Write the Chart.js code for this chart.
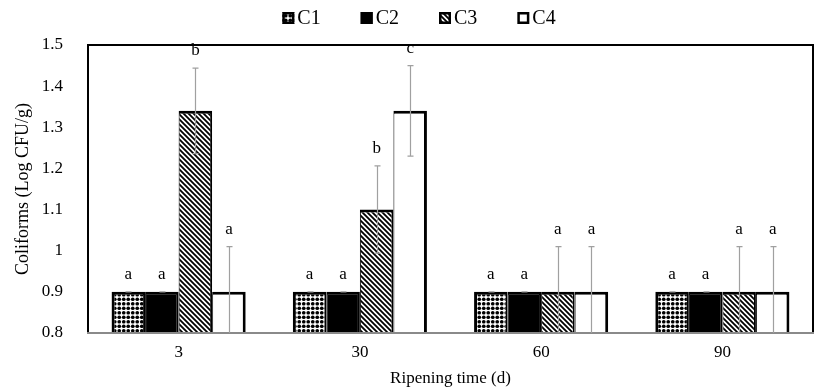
<!DOCTYPE html>
<html>
<head>
<meta charset="utf-8">
<script src="https://cdn.jsdelivr.net/npm/chart.js@4/dist/chart.umd.min.js"></script>
<style>
  html, body { margin: 0; padding: 0; background: #ffffff; }
  #wrap { width: 827px; height: 391px; }
</style>
</head>
<body>
<div id="wrap"><canvas id="c" width="827" height="391"></canvas></div>
<script>
// ---- Data ----
const categories = ['3', '30', '60', '90'];
const seriesNames = ['C1', 'C2', 'C3', 'C4'];
const c1Values = [0.90, 0.90, 0.90, 0.90];
const c2Values = [0.90, 0.90, 0.90, 0.90];
const c3Values = [1.34, 1.10, 0.90, 0.90];
const c4Values = [0.90, 1.34, 0.90, 0.90];
const c1Errors = [0, 0, 0, 0];
const c2Errors = [0, 0, 0, 0];
const c3Errors = [0.104, 0.106, 0.11, 0.11];
const c4Errors = [0.11, 0.11, 0.11, 0.11];
const c1Letters = ['a', 'a', 'a', 'a'];
const c2Letters = ['a', 'a', 'a', 'a'];
const c3Letters = ['b', 'b', 'a', 'a'];
const c4Letters = ['a', 'c', 'a', 'a'];
const yTickLabels = ['0.8', '0.9', '1', '1.1', '1.2', '1.3', '1.4', '1.5'];
const yTitle = 'Coliforms (Log CFU/g)';
const xTitle = 'Ripening time (d)';

const FONT = "'Liberation Serif', 'Times New Roman', serif";

// ---- Fill patterns ----
function dotPattern() {
  const s = 9;
  const t = document.createElement('canvas');
  t.width = s; t.height = s;
  const g = t.getContext('2d');
  g.fillStyle = '#ffffff'; g.fillRect(0, 0, s, s);
  g.fillStyle = '#000000';
  [[2.25, 2.25], [6.75, 2.25], [2.25, 6.75], [6.75, 6.75]].forEach(([x, y]) => {
    g.beginPath(); g.arc(x, y, 1.85, 0, Math.PI * 2); g.fill();
  });
  return g.createPattern(t, 'repeat');
}
function hatchPattern() {
  const s = 5;
  const t = document.createElement('canvas');
  t.width = s; t.height = s;
  const g = t.getContext('2d');
  g.fillStyle = '#ffffff'; g.fillRect(0, 0, s, s);
  g.strokeStyle = '#000000'; g.lineWidth = 1.8;
  g.beginPath();
  g.moveTo(-1, -1); g.lineTo(s + 1, s + 1);
  g.moveTo(-1, s - 1); g.lineTo(1, s + 1);
  g.moveTo(s - 1, -1); g.lineTo(s + 1, 1);
  g.stroke();
  return g.createPattern(t, 'repeat');
}

const fills = [dotPattern(), '#000000', hatchPattern(), '#ffffff'];
const valueSets = [c1Values, c2Values, c3Values, c4Values];
const errorSets = [c1Errors, c2Errors, c3Errors, c4Errors];
const letterSets = [c1Letters, c2Letters, c3Letters, c4Letters];
const borderSides = [
  { top: 3, left: 3, right: 2, bottom: 0 },
  { top: 3, left: 1, right: 2, bottom: 0 },
  { top: 3, left: 1, right: 2, bottom: 0 },
  { top: 3, left: 1, right: 3, bottom: 0 }
];

const datasets = seriesNames.map((name, i) => ({
  label: name,
  data: valueSets[i],
  errors: errorSets[i],
  letters: letterSets[i],
  backgroundColor: fills[i],
  borderColor: '#000000',
  borderWidth: borderSides[i],
  borderSkipped: 'start',
  barPercentage: 1.0,
  categoryPercentage: 0.74
}));

// ---- Plugins ----
const framePlugin = {
  id: 'frame',
  afterDatasetsDraw(chart) {
    const { ctx, chartArea: a } = chart;
    ctx.save();
    ctx.lineCap = 'square';
    ctx.strokeStyle = '#000000';
    ctx.lineWidth = 2;
    ctx.beginPath();
    ctx.moveTo(a.left, a.bottom);
    ctx.lineTo(a.left, a.top);
    ctx.lineTo(a.right, a.top);
    ctx.lineTo(a.right, a.bottom);
    ctx.stroke();
    ctx.strokeStyle = '#8a8a8a';
    ctx.lineWidth = 2;
    ctx.beginPath();
    ctx.moveTo(a.left, a.bottom);
    ctx.lineTo(a.right, a.bottom);
    ctx.stroke();
    ctx.restore();
  }
};

const errorPlugin = {
  id: 'errors',
  afterDatasetsDraw(chart) {
    const { ctx, chartArea: a } = chart;
    const ys = chart.scales.y;
    ctx.save();
    ctx.strokeStyle = '#a0a0a0';
    ctx.lineWidth = 1.2;
    chart.data.datasets.forEach((ds, di) => {
      const meta = chart.getDatasetMeta(di);
      meta.data.forEach((bar, i) => {
        const v = ds.data[i], e = ds.errors[i];
        const yt = ys.getPixelForValue(v + e);
        const yb = Math.min(ys.getPixelForValue(v - e), a.bottom);
        const x = Math.round(bar.x) + 0.5;
        ctx.beginPath();
        ctx.moveTo(x, yt); ctx.lineTo(x, yb);
        ctx.moveTo(x - 3, yt); ctx.lineTo(x + 3, yt);
        if (ys.getPixelForValue(v - e) <= a.bottom) {
          ctx.moveTo(x - 3, yb); ctx.lineTo(x + 3, yb);
        }
        ctx.stroke();
      });
    });
    ctx.restore();
  }
};

const letterPlugin = {
  id: 'letters',
  afterDraw(chart) {
    const { ctx } = chart;
    const ys = chart.scales.y;
    ctx.save();
    ctx.fillStyle = '#000000';
    ctx.font = '17px ' + FONT;
    ctx.textAlign = 'center';
    ctx.textBaseline = 'alphabetic';
    chart.data.datasets.forEach((ds, di) => {
      const meta = chart.getDatasetMeta(di);
      meta.data.forEach((bar, i) => {
        const top = ys.getPixelForValue(ds.data[i] + ds.errors[i]);
        ctx.fillText(ds.letters[i], bar.x, top - 13);
      });
    });
    ctx.restore();
  }
};

const legendPlugin = {
  id: 'customLegend',
  afterDraw(chart) {
    const { ctx } = chart;
    ctx.save();
    ctx.font = '20px ' + FONT;
    ctx.textBaseline = 'middle';
    const box = 12, gapBoxText = 3, gapItems = 40;
    const items = chart.data.datasets.map(ds => ({
      ds, w: box + gapBoxText + ctx.measureText(ds.label).width
    }));
    const total = items.reduce((s, it) => s + it.w, 0) + gapItems * (items.length - 1);
    let x = 419 - total / 2;
    const cy = 18;
    items.forEach(it => {
      ctx.fillStyle = it.ds.backgroundColor;
      ctx.fillRect(x, cy - box / 2, box, box);
      ctx.strokeStyle = '#000000';
      ctx.lineWidth = 2.5;
      ctx.strokeRect(x + 1.25, cy - box / 2 + 1.25, box - 2.5, box - 2.5);
      ctx.fillStyle = '#000000';
      ctx.fillText(it.ds.label, x + box + gapBoxText, cy + 1);
      x += it.w + gapItems;
    });
    ctx.restore();
  }
};

new Chart(document.getElementById('c'), {
  type: 'bar',
  data: { labels: categories, datasets },
  options: {
    responsive: false,
    animation: false,
    devicePixelRatio: 1,
    layout: { padding: { top: 45, right: 14, bottom: 0, left: 0 } },
    plugins: {
      legend: { display: false },
      tooltip: { enabled: false }
    },
    scales: {
      x: {
        grid: { display: false, drawTicks: false },
        border: { display: false },
        ticks: { color: '#000000', font: { family: FONT, size: 17 }, padding: 9 },
        title: { display: true, text: xTitle, color: '#000000', font: { family: FONT, size: 17 }, padding: { top: 0, bottom: 2 } },
        afterFit(scale) { scale.height = 58; }
      },
      y: {
        min: 0.8,
        max: 1.5,
        grid: { display: false, drawTicks: false },
        border: { display: false },
        ticks: {
          stepSize: 0.1,
          color: '#000000',
          font: { family: FONT, size: 17 },
          padding: 25,
          callback: (val, idx) => yTickLabels[idx]
        },
        title: { display: true, text: yTitle, color: '#000000', font: { family: FONT, size: 18 }, padding: { top: 12, bottom: 0 } },
        afterFit(scale) { scale.width = 88; }
      }
    }
  },
  plugins: [framePlugin, errorPlugin, letterPlugin, legendPlugin]
});
</script>
</body>
</html>
